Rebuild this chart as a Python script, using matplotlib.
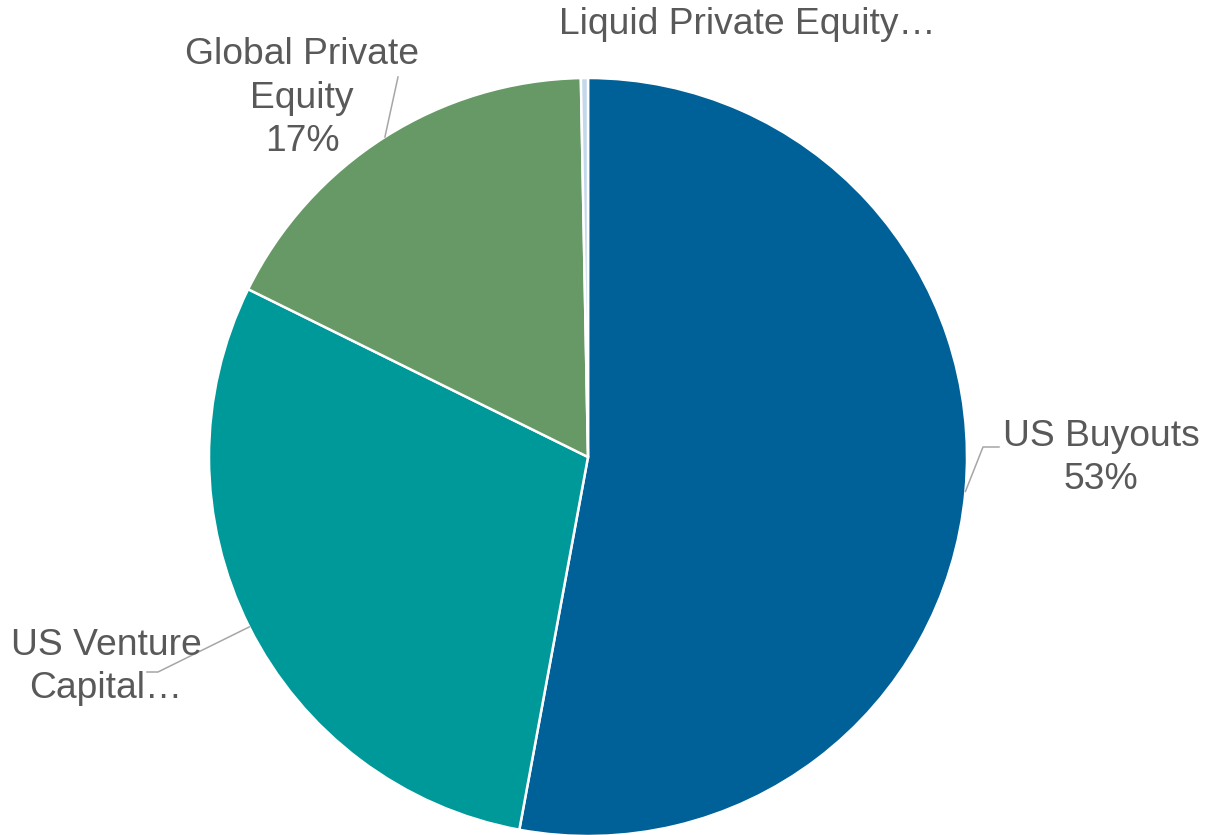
import numpy as np
import matplotlib
matplotlib.use("Agg")
import matplotlib.pyplot as plt

# slice data, clockwise from 12 o'clock
names = ["US Buyouts", "US Venture Capital", "Global Private Equity", "Liquid Private Equity"]
shares = [52.9, 29.4, 17.4, 0.3]
label_texts = ["US Buyouts\n53%", "US Venture\nCapital\u2026", "Global Private\nEquity\n17%",
               "Liquid Private Equity\u2026"]
slice_colors = ["#006098", "#009999", "#669966", "#c4d8ec"]

W, H = 1205, 835
cx, cy, r = 588, 457, 379  # pie centre / radius in pixels

plt.rcParams["font.family"] = ["Liberation Sans", "DejaVu Sans"]

fig = plt.figure(figsize=(W / 100, H / 100), dpi=100)
ax = fig.add_axes([(cx - r) / W, (H - cy - r) / H, 2 * r / W, 2 * r / H])

wedges, _ = ax.pie(shares, colors=slice_colors, startangle=90, counterclock=False,
                   radius=1, wedgeprops=dict(edgecolor="white", linewidth=1.8))
ax.set_xlim(-1, 1)
ax.set_ylim(-1, 1)
ax.set_aspect("equal")
ax.axis("off")


def px(x, y):
    # figure pixel -> pie data coords
    return (x - cx) / r, (cy - y) / r


# label centres (pixels) and leader line elbows
label_pos = [(1101, 458), (106, 667), (302, 98), (747, 25)]
elbows = [[(983, 447), (999, 447)], [(158, 672), (147, 672)], [(398, 77)], None]

for w, txt, pos, elb in zip(wedges, label_texts, label_pos, elbows):
    tx, ty = px(*pos)
    ax.text(tx, ty, txt, ha="center", va="center", multialignment="center",
            fontsize=26.8, color="#595959", clip_on=False, linespacing=1.32)
    if elb:
        mid = np.deg2rad((w.theta1 + w.theta2) / 2)
        xs = [np.cos(mid)] + [px(*p)[0] for p in elb]
        ys = [np.sin(mid)] + [px(*p)[1] for p in elb]
        ax.plot(xs, ys, color="#a6a6a6", lw=1.1, clip_on=False)

fig.savefig("out.png", dpi=100)
